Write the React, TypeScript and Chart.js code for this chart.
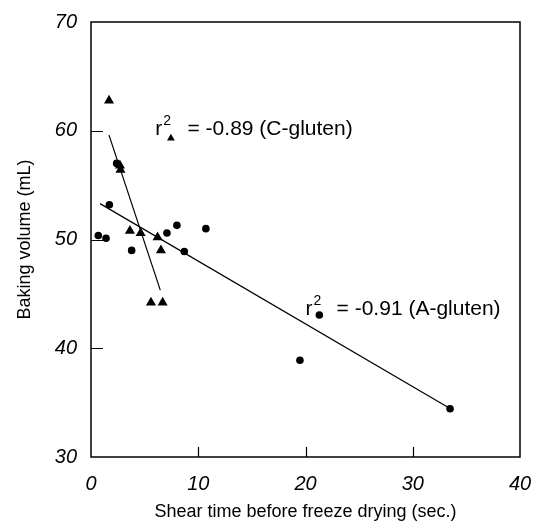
import React, { useEffect, useRef } from 'react';
import { Chart, registerables } from 'chart.js';

Chart.register(...registerables);

// A-gluten (circles)
const aGlutenX = [0.68, 1.4, 1.71, 2.39, 3.79, 7.08, 8.01, 8.7, 10.71, 19.48, 33.48];
const aGlutenY = [50.37, 50.12, 53.2, 57.0, 49.0, 50.6, 51.3, 48.9, 51.0, 38.9, 34.43];
// C-gluten (triangles)
const cGlutenX = [1.68, 2.7, 2.75, 3.63, 4.63, 6.21, 6.52, 5.59, 6.68];
const cGlutenY = [62.78, 56.8, 56.4, 50.8, 50.6, 50.2, 49.0, 44.2, 44.2];
// regression lines (end points)
const aLineX = [0.84, 33.4];
const aLineY = [53.3, 34.5];
const cLineX = [1.68, 6.46];
const cLineY = [59.6, 45.35];
// annotation markers
const markerCX = [7.45];
const markerCY = [59.3];
const markerAX = [21.29];
const markerAY = [43.06];
// annotation texts
const annoLabels = ['= -0.89 (C-gluten)', '= -0.91 (A-gluten)'];
const annoRX = [6.0, 20.0];
const annoEqX = [9.0, 22.9];
const annoBaseY = [59.6, 43.1];

const xTicksInner = [10, 20, 30];
const yTicksInner = [40, 50, 60];

const xTitle = 'Shear time before freeze drying (sec.)';
const yTitle = 'Baking volume (mL)';

const FONT = "Arial, 'Liberation Sans', Helvetica, sans-serif";

const zip = (xs: number[], ys: number[]) => xs.map((x, i) => ({ x, y: ys[i] }));

const framePlugin = {
  id: 'frameAndAnno',
  afterDraw(chart: any) {
    const { ctx, chartArea: a, scales } = chart;
    const xs = scales.x;
    const ys = scales.y;
    ctx.save();
    ctx.strokeStyle = '#000';
    ctx.lineWidth = 1.5;
    ctx.strokeRect(a.left, a.top, a.right - a.left, a.bottom - a.top);
    ctx.lineWidth = 1.2;
    ctx.beginPath();
    yTicksInner.forEach((v) => {
      const py = Math.round(ys.getPixelForValue(v)) + 0.5;
      ctx.moveTo(a.left, py);
      ctx.lineTo(a.left + 12, py);
    });
    xTicksInner.forEach((v) => {
      const px = Math.round(xs.getPixelForValue(v)) + 0.5;
      ctx.moveTo(px, a.bottom);
      ctx.lineTo(px, a.bottom - 10);
    });
    ctx.stroke();

    ctx.fillStyle = '#000';
    ctx.textBaseline = 'alphabetic';
    ctx.textAlign = 'left';
    annoLabels.forEach((label, i) => {
      const by = ys.getPixelForValue(annoBaseY[i]);
      const rx = xs.getPixelForValue(annoRX[i]);
      ctx.font = `21px ${FONT}`;
      ctx.fillText('r', rx, by);
      const rw = ctx.measureText('r').width;
      ctx.font = `14px ${FONT}`;
      ctx.fillText('2', rx + rw + 1, by - 10);
      ctx.font = `21px ${FONT}`;
      ctx.fillText(label, xs.getPixelForValue(annoEqX[i]), by);
    });
    ctx.restore();
  },
};

export default function App() {
  const ref = useRef<HTMLCanvasElement>(null);
  useEffect(() => {
    if (!ref.current) return;
    const chart = new Chart(ref.current, {
      type: 'scatter',
      data: {
        datasets: [
          {
            label: 'A-gluten line',
            type: 'line',
            data: zip(aLineX, aLineY),
            borderColor: '#000',
            borderWidth: 1.2,
            pointRadius: 0,
            fill: false,
          } as any,
          {
            label: 'C-gluten line',
            type: 'line',
            data: zip(cLineX, cLineY),
            borderColor: '#000',
            borderWidth: 1.2,
            pointRadius: 0,
            fill: false,
          } as any,
          {
            label: 'A-gluten',
            data: zip(aGlutenX, aGlutenY),
            pointStyle: 'circle',
            pointRadius: 3.8,
            backgroundColor: '#000',
            borderColor: '#000',
            borderWidth: 0,
          },
          {
            label: 'C-gluten',
            data: zip(cGlutenX, cGlutenY),
            pointStyle: 'triangle',
            pointRadius: 5.8,
            backgroundColor: '#000',
            borderColor: '#000',
            borderWidth: 0,
          },
          {
            label: 'marker C',
            data: zip(markerCX, markerCY),
            pointStyle: 'triangle',
            pointRadius: 4.5,
            backgroundColor: '#000',
            borderWidth: 0,
          },
          {
            label: 'marker A',
            data: zip(markerAX, markerAY),
            pointStyle: 'circle',
            pointRadius: 3.8,
            backgroundColor: '#000',
            borderWidth: 0,
          },
        ],
      },
      options: {
        animation: false,
        responsive: false,
        maintainAspectRatio: false,
        layout: { padding: { top: 22, right: 17, left: 0, bottom: 0 } },
        plugins: { legend: { display: false }, tooltip: { enabled: false } },
        scales: {
          x: {
            type: 'linear',
            min: 0,
            max: 40,
            ticks: {
              stepSize: 10,
              color: '#000',
              padding: 15,
              font: { family: FONT, size: 20, style: 'italic' },
            },
            grid: { display: false, drawTicks: false },
            border: { display: false },
            title: {
              display: true,
              text: xTitle,
              color: '#000',
              font: { family: FONT, size: 18 },
              padding: { top: 0, bottom: 2.2 },
            },
            afterFit(scale: any) {
              scale.height = 68;
              scale.paddingLeft = 0;
              scale.paddingRight = 0;
            },
          },
          y: {
            type: 'linear',
            min: 30,
            max: 70,
            ticks: {
              stepSize: 10,
              color: '#000',
              padding: 14,
              font: { family: FONT, size: 20, style: 'italic' },
            },
            grid: { display: false, drawTicks: false },
            border: { display: false },
            title: {
              display: true,
              text: yTitle,
              color: '#000',
              font: { family: FONT, size: 18 },
              padding: { top: 14.2, bottom: 0 },
            },
            afterFit(scale: any) {
              scale.width = 91;
              scale.paddingTop = 0;
              scale.paddingBottom = 0;
            },
          },
        },
      },
      plugins: [framePlugin],
    });
    return () => chart.destroy();
  }, []);
  return (
    <div style={{ position: 'fixed', left: 0, top: 0, width: 537, height: 525, background: '#fff' }}>
      <canvas ref={ref} width={537} height={525} style={{ width: 537, height: 525, display: 'block' }} />
    </div>
  );
}
